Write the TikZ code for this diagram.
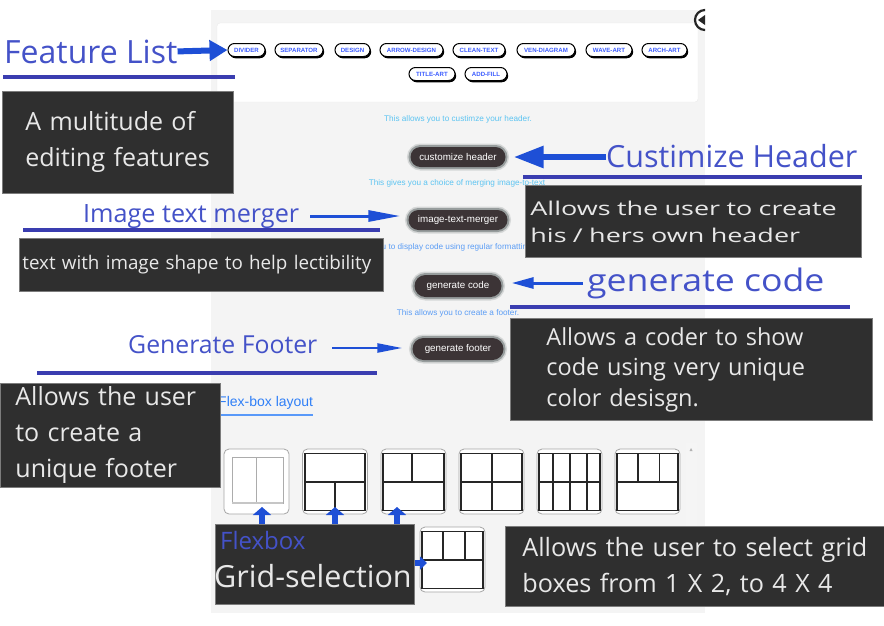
\documentclass[tikz,border=0pt]{standalone}
\usepackage{fontspec}
\setmainfont{Open Sans}
\newfontfamily\uifont{Liberation Sans}
\newfontfamily\stretchfont[FakeStretch=1.42]{Open Sans}
\newfontfamily\widefont[FakeStretch=1.15]{Open Sans}
\usetikzlibrary{arrows.meta,shadows,calc}
\definecolor{panelbg}{HTML}{F4F4F4}
\definecolor{boxbg}{HTML}{2F2F2F}
\definecolor{boxline}{HTML}{7C7C7C}
\definecolor{lbl}{HTML}{4452C8}
\definecolor{uline}{HTML}{3A3DB0}
\definecolor{arr}{HTML}{1E4FD6}
\definecolor{pilltxt}{HTML}{3A5BFF}
\definecolor{hintc}{HTML}{5CC4F2}
\definecolor{hintb}{HTML}{5B9DF5}
\definecolor{btn}{HTML}{3C3436}
\definecolor{glow}{HTML}{253333}
\definecolor{boxtxt}{HTML}{E8E8E8}
\definecolor{flexc}{HTML}{2F7FF7}
\newcommand{\fs}[2]{\fontsize{#1}{#2}\selectfont}
\tikzset{
  pill/.style={draw=black, line width=1pt, fill=white, rounded corners=6.5pt,
    minimum height=13pt, inner sep=0pt, text=pilltxt,
    font=\uifont\bfseries\fs{6.1}{7},
    drop shadow={shadow xshift=1.2pt, shadow yshift=-1.8pt, fill=black, opacity=1}},
  btnbox/.style={fill=btn, rounded corners=10pt, minimum height=20pt, inner sep=0pt,
    text=white, font=\uifont\fs{9.8}{11},
    preaction={draw=glow, line width=7pt, opacity=0.15},
    preaction={draw=glow, line width=4pt, opacity=0.35}},
  hint/.style={inner sep=0pt, font=\uifont\fs{8.2}{9}},
  darkbox/.style={fill=boxbg, draw=boxline, line width=0.8pt, anchor=north west,
    align=left, text=boxtxt},
  lab/.style={inner sep=0pt, text=lbl, anchor=base west},
  uln/.style={draw=uline, line width=4.5pt},
  gridbox/.style={draw=gray!70, line width=0.8pt, fill=white, rounded corners=5pt,
    minimum width=65pt, minimum height=65pt, inner sep=0pt},
  gline/.style={draw=black!85, line width=1.3pt},
}
\begin{document}
\begin{tikzpicture}[x=1pt,y=-1pt]
\useasboundingbox (0,0) rectangle (884,625);
\fill[white] (0,0) rectangle (884,625);
% app panel
\fill[panelbg] (211,10) rectangle (705,613);
\fill[black!4] (686,443) rectangle (697,527);
\fill[gray!60] (689.5,451) -- (692.5,451) -- (691,448) -- cycle;
\filldraw[fill=white, draw=black!8, rounded corners=3pt] (217,23) rectangle (698,102);
\begin{scope}
  \clip (690,5) rectangle (705,40);
  \filldraw[fill=white, draw=black!85, line width=2.2pt] (705,20) circle (10);
  \fill[black!85] (698,20) -- (705,15) -- (705,25) -- cycle;
\end{scope}
% feature pills
\node[pill, minimum width=37pt] (divider) at (246.5,50) {DIVIDER};
\node[pill, minimum width=48pt] (separator) at (299,50) {SEPARATOR};
\node[pill, minimum width=35pt] (design) at (352.5,50) {DESIGN};
\node[pill, minimum width=63pt] (arrowdesign) at (411.5,50) {ARROW-DESIGN};
\node[pill, minimum width=52pt] (cleantext) at (479,50) {CLEAN-TEXT};
\node[pill, minimum width=58pt] (vendiagram) at (546,50) {VEN-DIAGRAM};
\node[pill, minimum width=46pt] (waveart) at (609,50) {WAVE-ART};
\node[pill, minimum width=45pt] (archart) at (664.5,50) {ARCH-ART};
\node[pill, minimum width=46pt] (titleart) at (432,74) {TITLE-ART};
\node[pill, minimum width=42pt] (addfill) at (486,74) {ADD-FILL};
% hints and buttons
\node[hint, text=hintc] (hint1) at (458,119) {This allows you to custimze your header.};
\node[btnbox, minimum width=95pt] (bheader) at (458,157) {customize header};
\node[hint, text=hintc] (hint2) at (457,183) {This gives you a choice of merging image-to-text};
\node[btnbox, minimum width=99pt] (bmerge) at (458,220) {image-text-merger};
\node[hint, text=hintb, anchor=west] (hint3) at (330,247) {This allows you to display code using regular formatting.};
\node[btnbox, minimum width=87pt, minimum height=22pt, rounded corners=11pt] (bcode) at (458,286) {generate code};
\node[hint, text=hintb] (hint4) at (458,313) {This allows you to create a footer.};
\node[btnbox, minimum width=91pt, minimum height=22pt, rounded corners=11pt] (bfooter) at (458,349) {generate footer};
\node[inner sep=0pt, anchor=base west, text=flexc, font=\uifont\fs{14}{16}] (flexlayout) at (218,406) {Flex-box layout};
\draw[draw=flexc!80, line width=1.4pt] (218,415) -- (313,415);
% grid boxes
\node[gridbox] (g1) at (256.5,481.5) {};
\node[gridbox] (g2) at (335,481.5) {};
\node[gridbox] (g3) at (413.5,481.5) {};
\node[gridbox] (g4) at (491.5,481.5) {};
\node[gridbox] (g5) at (569.5,481.5) {};
\node[gridbox] (g6) at (647.5,481.5) {};
\node[gridbox] (g7) at (452.5,559.5) {};
\begin{scope}[shift={(g1.center)}]
  \draw[gray!65, line width=1pt] (-24.5,-24.5) rectangle (26.5,21.5);
  \draw[gray!65, line width=1pt] (0,-24.5) -- (0,21.5);
  \draw[gray!45, line width=2pt] (-24.5,21.5) -- (26.5,21.5);
\end{scope}
\begin{scope}[shift={(g2.center)}]
  \draw[gline] (-30,-28) rectangle (30,29);
  \draw[gline] (-30,0.5) -- (30,0.5) (0,0.5) -- (0,29);
\end{scope}
\begin{scope}[shift={(g3.center)}]
  \draw[gline] (-30.5,-28) rectangle (30.5,29);
  \draw[gline] (-30.5,0.5) -- (30.5,0.5) (-1.5,-28) -- (-1.5,0.5);
\end{scope}
\begin{scope}[shift={(g4.center)}]
  \draw[gline] (-30.5,-28) rectangle (30.5,29);
  \draw[gline] (-30.5,0.5) -- (30.5,0.5) (0.5,-28) -- (0.5,29);
\end{scope}
\begin{scope}[shift={(g5.center)}]
  \draw[gline] (-30.5,-28) rectangle (30.5,29);
  \draw[gline] (-30.5,0.5) -- (30.5,0.5) (-16.5,-28) -- (-16.5,29) (0.5,-28) -- (0.5,29) (17.5,-28) -- (17.5,29);
\end{scope}
\begin{scope}[shift={(g6.center)}]
  \draw[gline] (-30.5,-28) rectangle (30.5,29);
  \draw[gline] (-30.5,0.5) -- (30.5,0.5) (-9.5,-28) -- (-9.5,0.5) (12,-28) -- (12,0.5);
\end{scope}
\begin{scope}[shift={(g7.center)}]
  \draw[gline] (-30.5,-28) rectangle (30.5,29);
  \draw[gline] (-30.5,0.5) -- (30.5,0.5) (-9.5,-28) -- (-9.5,0.5) (12.5,-28) -- (12.5,0.5);
\end{scope}
% left annotations
\node[lab, font=\fs{32}{38}] (featlbl) at (4,63) {Feature List};
\draw[uln] (3,77) -- (235,77);
\node[darkbox, minimum width=231pt, minimum height=102pt, inner xsep=23pt, text width=185pt, font=\fs{25}{36}] (boxfeat) at (2,91) {A multitude of\\editing features};
\node[lab, font=\fs{25.2}{30}] (mergelbl) at (83,222) {Image text merger};
\draw[uln] (23,230) -- (380,230);
\node[darkbox, minimum width=364pt, minimum height=53pt, inner xsep=3pt, text width=358pt, font=\fs{18.8}{22}] (boxmerge) at (19,238) {text with image shape to help lectibility};
\node[lab, font=\fs{24.8}{30}] (footlbl) at (128,353) {Generate Footer};
\draw[uln] (37,373) -- (377,373);
\node[darkbox, minimum width=217pt, minimum height=102pt, inner xsep=15pt, text width=190pt, font=\fs{25}{36}] (boxfoot) at (0,383) {Allows the user\\to create a\\unique footer};
% right annotations
\node[lab, font=\fs{30.5}{36}] (headlbl) at (606,167) {Custimize Header};
\draw[uln] (523,177) -- (862,177);
\node[darkbox, minimum width=336pt, minimum height=72pt, inner xsep=5pt, text width=326pt, font=\stretchfont\fs{19}{27}] (boxhead) at (525,185) {Allows the user to create\\his / hers own header};
\node[lab, font=\widefont\fs{31}{36}] (codelbl) at (587,291) {generate code};
\draw[uln] (510,307) -- (850,307);
\node[darkbox, minimum width=336pt, minimum height=102pt, inner xsep=36pt, text width=290pt, font=\fs{23.5}{30.5}] (boxcode) at (510,318) {Allows a coder to show\\code using very unique\\color desisgn.};
\node[darkbox, minimum width=377pt, minimum height=80pt, inner xsep=17pt, text width=350pt, font=\fs{25.2}{36}] (boxgrid) at (505,526) {Allows the user to select grid\\boxes from 1 X 2, to 4 X 4};
% flexbox box
\node[fill=boxbg, draw=boxline, line width=0.8pt, anchor=north west, minimum width=199pt, minimum height=80pt, inner sep=0pt] (boxflex) at (215,524) {};
\node[inner sep=0pt, anchor=base west, text=lbl, font=\fs{24}{28}] (flexlbl) at (220,549) {Flexbox};
\node[inner sep=0pt, anchor=base west, text=boxtxt, font=\fs{30.5}{36}] (gridlbl) at (214,587) {Grid-selection};
% arrows
\draw[line width=6pt, draw=arr, -{Triangle[length=18pt,width=20pt]}] (featlbl.east) -- (divider.west);
\draw[line width=6pt, draw=arr, -{Triangle[length=30pt,width=21pt]}, shorten >=8pt] (headlbl.west |- bheader.east) -- (bheader.east);
\draw[line width=3pt, draw=arr, -{Triangle[length=32pt,width=11pt]}, shorten >=8pt] (310,216) -- (bmerge.west |- 0,216);
\draw[line width=3pt, draw=arr, -{Triangle[length=22pt,width=11pt]}, shorten >=10pt] (583,283) -- (bcode.east |- 0,283);
\draw[line width=2.5pt, draw=arr, -{Triangle[length=25pt,width=9pt]}, shorten >=10pt] (332,348) -- (bfooter.west |- 0,348);
\draw[line width=6pt, draw=arr, -{Triangle[length=8pt,width=18pt]}] (262,524) -- (262,507);
\draw[line width=6pt, draw=arr, -{Triangle[length=8pt,width=18pt]}] (335,524) -- (335,507);
\draw[line width=6pt, draw=arr, -{Triangle[length=8pt,width=18pt]}] (397,524) -- (397,507);
\draw[line width=6pt, draw=arr, -{Triangle[length=7pt,width=13pt]}] (boxflex.east |- 0,563) -- (427,563);
\end{tikzpicture}
\end{document}
